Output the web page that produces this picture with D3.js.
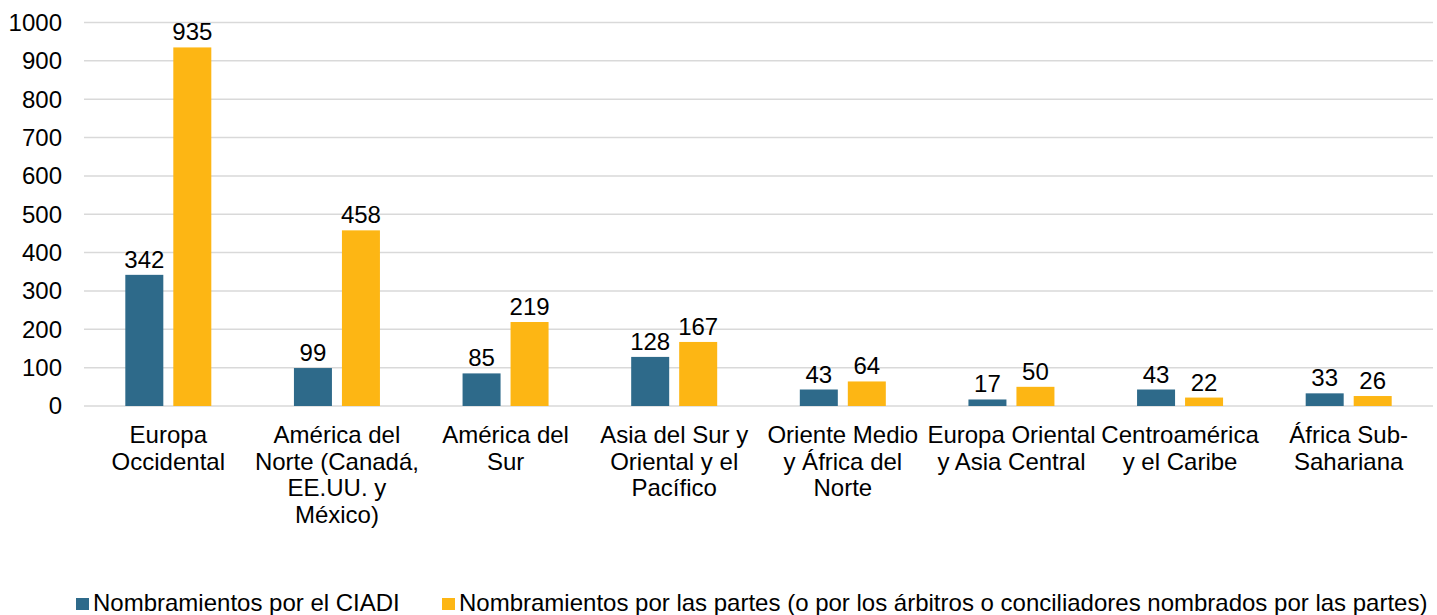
<!DOCTYPE html>
<html><head><meta charset="utf-8">
<script src="https://cdn.jsdelivr.net/npm/d3@7"></script>
<style>body{margin:0;background:#fff}svg{display:block;font-family:"Liberation Sans",Arial,sans-serif}</style>
</head><body><svg id="c" width="1437" height="615"></svg>
<script>
const categories = [
  ["Europa","Occidental"],
  ["América del","Norte (Canadá,","EE.UU. y","México)"],
  ["América del","Sur"],
  ["Asia del Sur y","Oriental y el","Pacífico"],
  ["Oriente Medio","y África del","Norte"],
  ["Europa Oriental","y Asia Central"],
  ["Centroamérica","y el Caribe"],
  ["África Sub-","Sahariana"]
];
const seriesNames = ["Nombramientos por el CIADI","Nombramientos por las partes (o por los árbitros o conciliadores nombrados por las partes)"];
const ciadi = [342,99,85,128,43,17,43,33];
const partes = [935,458,219,167,64,50,22,26];
const yTicks = [0,100,200,300,400,500,600,700,800,900,1000];
const colors = ["#2E6A8A","#FDB614"];

const svg = d3.select("#c");
const L = 84, R = 1433, T = 22.5, B = 406;
const FS = 24;
const idx = categories.map((d,i)=>i);
const x = d3.scaleBand().domain(idx).range([L,R]).paddingInner(0).paddingOuter(0);
const y = d3.scaleLinear().domain([0,1000]).range([B,T]);
const barW = 38, gap = 10;

// grid
svg.append("g").selectAll("line").data(yTicks).join("line")
  .attr("x1",L).attr("x2",R).attr("y1",d=>y(d)).attr("y2",d=>y(d))
  .attr("stroke","#D9D9D9").attr("stroke-width",1.5);

// y labels
svg.append("g").selectAll("text").data(yTicks).join("text")
  .attr("x",62).attr("y",d=>y(d)).attr("dy","0.35em").attr("text-anchor","end")
  .attr("font-size",FS).attr("fill","#000").text(d=>d);

const series = [ciadi, partes];
series.forEach((vals,s)=>{
  const off = s===0 ? -gap/2-barW : gap/2;
  const g = svg.append("g");
  g.selectAll("rect").data(vals).join("rect")
    .attr("x",(d,i)=>x(i)+x.bandwidth()/2+off).attr("width",barW)
    .attr("y",d=>y(d)).attr("height",d=>B-y(d)).attr("fill",colors[s]);
  g.selectAll("text").data(vals).join("text")
    .attr("x",(d,i)=>x(i)+x.bandwidth()/2+off+barW/2).attr("y",d=>y(d)-7)
    .attr("text-anchor","middle").attr("font-size",FS).attr("fill","#000").text(d=>d);
});

// x labels
const xl = svg.append("g");
categories.forEach((lines,i)=>{
  const t = xl.append("text").attr("text-anchor","middle").attr("font-size",FS).attr("fill","#000");
  lines.forEach((ln,j)=>{
    t.append("tspan").attr("x",x(i)+x.bandwidth()/2).attr("y",443+j*26.5).text(ln);
  });
});

// legend
const lg = svg.append("g");
const legX = [76,442];
seriesNames.forEach((n,i)=>{
  lg.append("rect").attr("x",legX[i]).attr("y",598).attr("width",13).attr("height",12).attr("fill",colors[i]);
  lg.append("text").attr("x",legX[i]+17).attr("y",611).attr("font-size",FS).attr("fill","#000").text(n);
});
</script></body></html>
